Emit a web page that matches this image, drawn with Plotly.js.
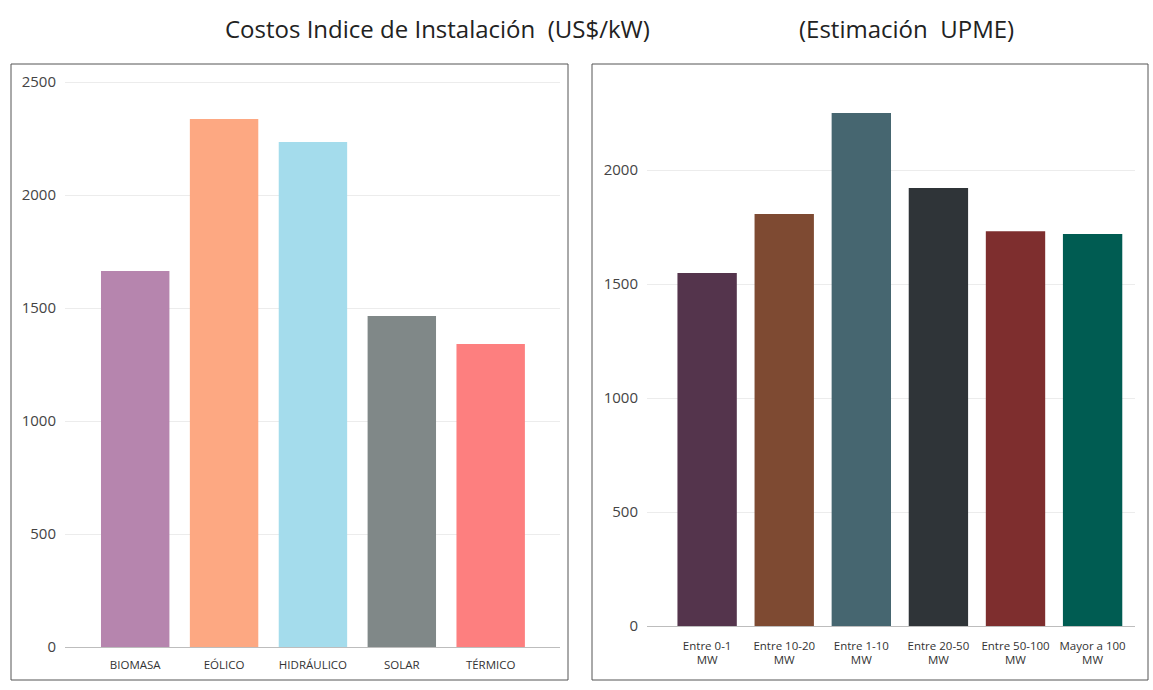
<!DOCTYPE html>
<html>
<head>
<meta charset="utf-8">
<script src="https://cdn.plot.ly/plotly-3.0.1.min.js"></script>
<style>html,body{margin:0;padding:0;background:#fff;}#chart{width:1153px;height:690px;}</style>
</head>
<body>
<div id="chart"></div>
<script>
// Left panel: installation cost index by technology (US$/kW)
const techCategories = ["BIOMASA", "EÓLICO", "HIDRÁULICO", "SOLAR", "TÉRMICO"];
const techValues = [1664, 2336, 2235, 1465, 1341];
const techColors = ["#B685AE", "#FDA882", "#A4DCEC", "#808888", "#FD7F7F"];

// Right panel: UPME estimate by capacity range
const sizeCategories = ["Entre 0-1<br>MW", "Entre 10-20<br>MW", "Entre 1-10<br>MW", "Entre 20-50<br>MW", "Entre 50-100<br>MW", "Mayor a 100<br>MW"];
const sizeValues = [1548, 1807, 2250, 1921, 1732, 1719];
const sizeColors = ["#54344C", "#7E4A32", "#466670", "#2F3438", "#7E2E2E", "#005C52"];

const leftTicks = [0, 500, 1000, 1500, 2000, 2500];
const rightTicks = [0, 500, 1000, 1500, 2000];

const W = 1153, H = 690;
const px = v => v / W;
const py = v => (H - v) / H;

const FONT = "Open Sans, Noto Sans, sans-serif";

const traces = [
  {type: "bar", x: techCategories, y: techValues, marker: {color: techColors}, xaxis: "x", yaxis: "y", hoverinfo: "x+y"},
  {type: "bar", x: sizeCategories, y: sizeValues, marker: {color: sizeColors}, xaxis: "x2", yaxis: "y2", hoverinfo: "x+y"}
];

const yCommon = {
  showgrid: true, gridcolor: "#ececec", gridwidth: 1,
  zeroline: true, zerolinecolor: "#bdbdbd", zerolinewidth: 1,
  showline: false, ticks: "", ticklabelstandoff: 8,
  tickfont: {family: FONT, size: 15, color: "#444"}
};
const xCommon = {
  showgrid: false, zeroline: false, showline: false, ticks: "",
  tickangle: 0, tickfont: {family: FONT, size: 11.5, color: "#333"}
};

const layout = {
  width: W, height: H,
  margin: {l: 0, r: 0, t: 0, b: 0},
  paper_bgcolor: "#fff", plot_bgcolor: "rgba(0,0,0,0)",
  showlegend: false,
  bargap: 0.23,
  xaxis: Object.assign({}, xCommon, {domain: [px(65), px(560)], range: [-0.79, 4.78], anchor: "y", ticklabelstandoff: 9}),
  yaxis: Object.assign({}, yCommon, {domain: [py(647), py(75)], range: [0, 2531], tickvals: leftTicks, anchor: "x"}),
  xaxis2: Object.assign({}, xCommon, {domain: [px(647), px(1135)], range: [-0.78, 5.55], anchor: "y2", ticklabelstandoff: 11}),
  yaxis2: Object.assign({}, yCommon, {domain: [py(626), py(75)], range: [0, 2417], tickvals: rightTicks, anchor: "x2"}),
  shapes: [
    {type: "rect", xref: "paper", yref: "paper", x0: px(11), x1: px(568), y0: py(680), y1: py(64), line: {color: "#555", width: 1}},
    {type: "rect", xref: "paper", yref: "paper", x0: px(592), x1: px(1148), y0: py(680), y1: py(64), line: {color: "#555", width: 1}}
  ],
  annotations: [
    {text: "Costos Indice de Instalación  (US$/kW)", xref: "paper", yref: "paper", x: px(437), y: py(28), showarrow: false, xanchor: "center", yanchor: "middle", font: {family: FONT, size: 24, color: "#222"}},
    {text: "(Estimación  UPME)", xref: "paper", yref: "paper", x: px(906), y: py(28), showarrow: false, xanchor: "center", yanchor: "middle", font: {family: FONT, size: 24, color: "#222"}}
  ]
};

Plotly.newPlot("chart", traces, layout, {displayModeBar: false, staticPlot: true});
</script>
</body>
</html>
